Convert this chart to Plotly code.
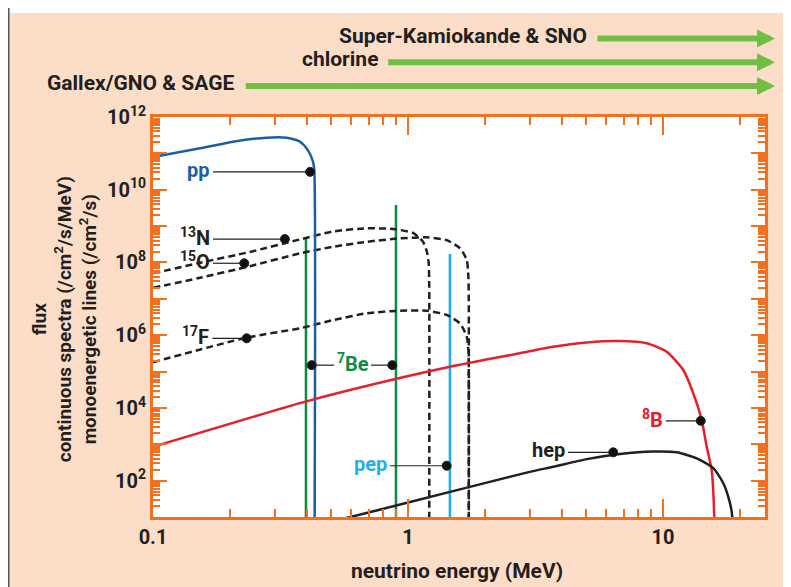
import math
import plotly.graph_objects as go

# ---------------- data ----------------
pp_E = [0.1, 0.153, 0.206, 0.279, 0.334, 0.377, 0.405, 0.424, 0.429, 0.430]
pp_flux = [7.9e10, 1.38e11, 2.1e11, 2.7e11, 2.7e11, 2.1e11, 1.23e11, 5.9e10, 3.5e10, 1.0]

n13_E = [0.1, 0.153, 0.240, 0.377, 0.508, 0.689, 0.873, 1.046, 1.145, 1.185, 1.205, 1.211, 1.211]
n13_flux = [5.0e7, 9.8e7, 1.95e8, 4.3e8, 7.1e8, 8.7e8, 8.3e8, 6.5e8, 3.7e8, 2.0e8, 1.0e8, 3.0e7, 1.0]

o15_E = [0.1, 0.153, 0.240, 0.377, 0.509, 0.689, 0.930, 1.184, 1.418, 1.60, 1.70, 1.725, 1.731, 1.731]
o15_flux = [2.0e7, 3.8e7, 7.9e7, 1.78e8, 2.7e8, 3.7e8, 4.6e8, 4.9e8, 4.1e8, 2.45e8, 1.17e8, 4.1e7, 1.0e7, 1.0]

f17_E = [0.1, 0.232, 0.377, 0.509, 0.689, 0.930, 1.184, 1.418, 1.60, 1.70, 1.725, 1.731, 1.731]
f17_flux = [1.8e5, 8.5e5, 1.55e6, 2.6e6, 4.0e6, 4.7e6, 4.7e6, 3.6e6, 2.1e6, 9.1e5, 3.9e5, 1.0e5, 1.0]

b8_E = [0.1, 0.377, 0.592, 1.46, 2.75, 3.70, 5.02, 6.78, 8.63, 10.34, 12.01, 13.15, 14.18, 14.84, 15.52, 15.89, 15.95]
b8_flux = [850, 1.35e4, 3.1e4, 1.35e5, 3.2e5, 4.8e5, 6.3e5, 6.9e5, 6.0e5, 3.5e5, 1.1e5, 2.5e4, 4.7e3, 850, 195, 10, 1.0]

hep_E = [0.5, 0.601, 1.0, 3.0, 3.71, 5.02, 6.78, 9.16, 11.32, 13.56, 15.75, 17.24, 18.31, 18.70, 18.78]
hep_flux = [7.4, 10.2, 25, 174, 240, 390, 540, 630, 600, 410, 220, 85, 24, 10, 1.0]

# monoenergetic lines
line_names = ["7Be (0.38)", "7Be (0.86)", "pep"]
line_E = [0.398, 0.897, 1.46]
line_flux = [4.7e8, 3.8e9, 1.7e8]

# callouts: label, dot energy, dot flux, leader start energy
callout_text = ["pp", "<sup>13</sup>N", "<sup>15</sup>O", "<sup>17</sup>F", "pep", "hep", "<sup>8</sup>B"]
callout_dot_E = [0.413, 0.329, 0.228, 0.233, 1.418, 6.38, 14.06]
callout_dot_flux = [3.1e10, 4.4e8, 9.5e7, 8.2e5, 257, 600, 4.4e3]
callout_leader_E = [0.172, 0.172, 0.172, 0.171, 0.85, 4.24, 10.25]

be_dot_E = [0.419, 0.868]
be_leader_E = [0.513, 0.716]
be_flux = 1.5e5
be_label_E = 0.606

# detector thresholds (MeV)
det_names = ["Super-Kamiokande & SNO", "chlorine", "Gallex/GNO & SAGE"]
det_threshold = [5.46, 0.825, 0.228]
det_arrow_end = 27.5

x_ticks = [0.1, 1, 10]
x_ticktext = ["0.1", "1", "10"]

# ---------------- styles ----------------
BLUE = "#1b5fa3"
GREEN = "#0f8a45"
CYAN = "#1fb0e6"
RED = "#e4202b"
BLACK = "#231f20"
ORANGE = "#f37021"
PEACH = "#fcdec8"
ARROW_GREEN = "#6fbf44"
FONT = "Roboto"

callout_color = [BLUE, BLACK, BLACK, BLACK, CYAN, BLACK, RED]

fig = go.Figure()

def curve(x, y, color, dash=None, shape="linear"):
    fig.add_trace(go.Scatter(x=x, y=y, mode="lines",
                             line=dict(color=color, width=2.5, dash=dash, shape=shape,
                                       smoothing=0.6),
                             hoverinfo="skip", showlegend=False))

# monoenergetic lines
line_colors = [GREEN, GREEN, CYAN]
for e, f, c in zip(line_E, line_flux, line_colors):
    curve([e, e], [f, 1.0], c)

curve(n13_E, n13_flux, BLACK, "7px,4px", "spline")
curve(o15_E, o15_flux, BLACK, "7px,4px", "spline")
curve(f17_E, f17_flux, BLACK, "7px,4px", "spline")
curve(pp_E, pp_flux, BLUE, None, "spline")
curve(b8_E, b8_flux, RED, None, "spline")
curve(hep_E, hep_flux, BLACK, None, "spline")

annotations = []

# callout leaders + dots
for t, de, df, le, c in zip(callout_text, callout_dot_E, callout_dot_flux, callout_leader_E, callout_color):
    fig.add_trace(go.Scatter(x=[le, de], y=[df, df], mode="lines+markers",
                             line=dict(color=BLACK, width=1.2),
                             marker=dict(size=[0, 9], color="#111111", opacity=1),
                             hoverinfo="skip", showlegend=False))
    annotations.append(dict(x=math.log10(le), y=math.log10(df), xref="x", yref="y",
                            text=t, showarrow=False, xanchor="right", yanchor="middle",
                            xshift=-1, yshift=2,
                            font=dict(family=FONT, size=20, color=c, weight="bold")))

for de, le in zip(be_dot_E, be_leader_E):
    fig.add_trace(go.Scatter(x=[le, de], y=[be_flux, be_flux], mode="lines+markers",
                             line=dict(color=BLACK, width=1.2),
                             marker=dict(size=[0, 9], color="#111111", opacity=1),
                             hoverinfo="skip", showlegend=False))
annotations.append(dict(x=math.log10(be_label_E), y=math.log10(be_flux), xref="x", yref="y",
                        text="<sup>7</sup>Be", showarrow=False, xanchor="center", yanchor="middle",
                        yshift=2,
                        font=dict(family=FONT, size=20, color=GREEN, weight="bold")))

# detector arrows
det_y = [1.196, 1.137, 1.0775]
for name, thr, yy in zip(det_names, det_threshold, det_y):
    annotations.append(dict(x=math.log10(det_arrow_end), y=yy, xref="x", yref="paper",
                            ax=math.log10(thr), ay=0, axref="x", ayref="pixel",
                            text="", showarrow=True, arrowhead=2, arrowsize=0.6,
                            arrowwidth=6, arrowcolor=ARROW_GREEN))
    annotations.append(dict(x=math.log10(thr), y=yy, xref="x", yref="paper",
                            text=name, showarrow=False, xanchor="right", yanchor="middle",
                            xshift=-7, yshift=3,
                            font=dict(family=FONT, size=21, color=BLACK, weight="bold")))

# axis titles
annotations.append(dict(x=0.496, y=-0.135, xref="paper", yref="paper",
                        text="neutrino energy (MeV)", showarrow=False,
                        xanchor="center", yanchor="middle",
                        font=dict(family=FONT, size=21, color=BLACK, weight="bold")))
annotations.append(dict(x=-0.145, y=0.495, xref="paper", yref="paper",
                        text="flux<br>continuous spectra (/cm<sup>2</sup>/s/MeV)<br>monoenergetic lines (/cm<sup>2</sup>/s)",
                        showarrow=False, textangle=-90,
                        xanchor="center", yanchor="middle",
                        font=dict(family=FONT, size=19, color=BLACK, weight="bold")))

y_tickvals = [10 ** k for k in range(1, 13)]
y_ticktext = ["" if k % 2 else "10<sup>%d</sup>" % k for k in range(1, 13)]
y_minor = [m * 10 ** k for k in range(1, 12) for m in range(2, 10)]
x_minor = [m * 0.1 for m in range(2, 10)] + [m * 1.0 for m in range(2, 10)] + [20.0]

axis_common = dict(showgrid=False, zeroline=False, showline=True, linecolor=ORANGE,
                   linewidth=3, mirror="allticks", ticks="inside", tickcolor=ORANGE,
                   tickwidth=2, tickfont=dict(family=FONT, size=20, color=BLACK, weight="bold"))

# the page has an 8px body margin: figure is placed at (8, 8)
fig.update_layout(
    width=783, height=579,
    margin=dict(l=145, r=26, t=109, b=70),
    paper_bgcolor=PEACH, plot_bgcolor="white",
    showlegend=False,
    xaxis=dict(type="log", range=[-1, 1.4], tickmode="array", tickvals=x_ticks,
               ticktext=x_ticktext, ticklen=18,
               minor=dict(tickmode="array", tickvals=x_minor, ticks="inside", ticklen=8,
                          tickcolor=ORANGE, tickwidth=2, showgrid=False),
               **axis_common),
    yaxis=dict(type="log", range=[1, 12], tickmode="array", tickvals=y_tickvals,
               ticktext=y_ticktext, ticklen=14,
               minor=dict(tickmode="array", tickvals=y_minor, ticks="inside", ticklen=7,
                          tickcolor=ORANGE, tickwidth=1.5, showgrid=False),
               **axis_common),
    annotations=annotations,
    shapes=[
        dict(type="rect", xref="paper", yref="paper", x0=-0.26, x1=1.06, y0=1.26, y1=1.31,
             fillcolor="white", line=dict(width=0), layer="below"),
        dict(type="line", xref="paper", yref="paper", x0=-0.2357, x1=-0.2357, y0=-0.2, y1=1.31,
             line=dict(color="#555555", width=1.5), layer="above"),
    ],
)

fig.write_html("out.html")
